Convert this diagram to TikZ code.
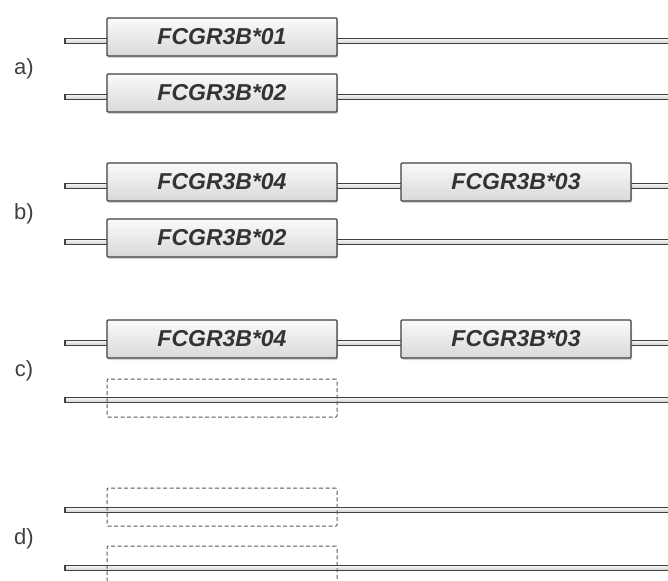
\documentclass[tikz,border=0pt]{standalone}
\usepackage{fontspec}
\setmainfont{Liberation Sans}
\usetikzlibrary{shadows}
\begin{document}
\begin{tikzpicture}[x=1pt,y=-1pt,
	tube/.style={draw=gray!50!black, line width=1.2pt, top color=gray!5, bottom color=gray!40},
	gene/.style={draw=gray!50!black, line width=1.1pt, rounded corners=1pt, minimum width=230pt, minimum height=38pt,
		top color=gray!4, bottom color=gray!30, drop shadow={shadow xshift=1pt, shadow yshift=-2pt, opacity=0.35},
		font=\fontsize{23}{23}\selectfont\bfseries\itshape, text=black!80},
	gap/.style={draw=black!65, dash pattern=on 4pt off 2.5pt, line width=1pt, rounded corners=1pt, minimum width=230pt, minimum height=38pt},
	lbl/.style={font=\fontsize{22}{22}\selectfont, text=black!75}]
		\useasboundingbox (0,0) rectangle (668,580);
		\clip (0,0) rectangle (668,580);
		% chromosomes
		\foreach \y in {41,97,186,242,343,400,510,568} \draw[tube] (65,\y-2.8) rectangle (675,\y+2.8);
		% genes
		\node[gene] (a01) at (222,37) {FCGR3B*01};
		\node[gene] (a02) at (222,93) {FCGR3B*02};
		\node[gene] (b04) at (222,182) {FCGR3B*04};
		\node[gene] (b03) at (516,182) {FCGR3B*03};
		\node[gene] (b02) at (222,238) {FCGR3B*02};
		\node[gene] (c04) at (222,339) {FCGR3B*04};
		\node[gene] (c03) at (516,339) {FCGR3B*03};
		% deleted genes
		\node[gap] (c0) at (222,398) {};
		\node[gap] (d1) at (222,507) {};
		\node[gap] (d2) at (222,565) {};
		% panel labels
		\node[lbl] (la) at (24,69) {a)};
		\node[lbl] (lb) at (24,214) {b)};
		\node[lbl] (lc) at (24,371) {c)};
		\node[lbl] (ld) at (24,539) {d)};
\end{tikzpicture}
\end{document}
